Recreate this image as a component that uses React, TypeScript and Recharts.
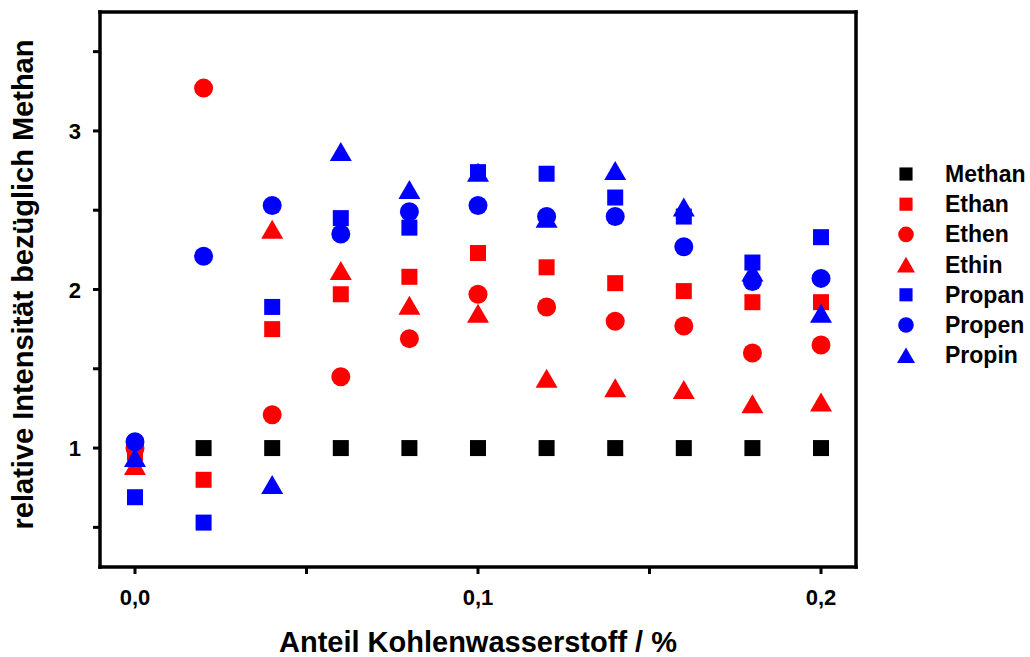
import React from 'react';
import { ScatterChart, Scatter, XAxis, YAxis, Legend } from 'recharts';

// Anteil Kohlenwasserstoff / %
const xValues = [0, 0.02, 0.04, 0.06, 0.08, 0.1, 0.12, 0.14, 0.16, 0.18, 0.2];

// relative Intensität bezüglich Methan
const methan = [1, 1, 1, 1, 1, 1, 1, 1, 1, 1, 1];
const ethan = [0.97, 0.8, 1.75, 1.97, 2.08, 2.23, 2.14, 2.04, 1.99, 1.92, 1.92];
const ethen = [1.0, 3.27, 1.21, 1.45, 1.69, 1.97, 1.89, 1.8, 1.77, 1.6, 1.65];
const ethin = [0.89, null, 2.38, 2.12, 1.9, 1.85, 1.44, 1.38, 1.37, 1.28, 1.29];
const propan = [0.69, 0.53, 1.89, 2.45, 2.39, 2.74, 2.73, 2.58, 2.46, 2.17, 2.33];
const propen = [1.04, 2.21, 2.53, 2.35, 2.49, 2.53, 2.46, 2.46, 2.27, 2.05, 2.07];
const propin = [0.94, null, 0.77, 2.87, 2.63, 2.74, 2.45, 2.75, 2.52, 2.11, 1.85];

const xTicks = [0, 0.05, 0.1, 0.15, 0.2];
const yTicks = [0.5, 1, 1.5, 2, 2.5, 3, 3.5];

const FONT = '"Liberation Sans", Arial, sans-serif';
const RED = '#ff0000';
const BLUE = '#0000ff';

type Kind = 'square' | 'circle' | 'triangle';

const series: { name: string; values: (number | null)[]; color: string; kind: Kind }[] = [
  { name: 'Methan', values: methan, color: '#000000', kind: 'square' },
  { name: 'Ethan', values: ethan, color: RED, kind: 'square' },
  { name: 'Ethen', values: ethen, color: RED, kind: 'circle' },
  { name: 'Ethin', values: ethin, color: RED, kind: 'triangle' },
  { name: 'Propan', values: propan, color: BLUE, kind: 'square' },
  { name: 'Propen', values: propen, color: BLUE, kind: 'circle' },
  { name: 'Propin', values: propin, color: BLUE, kind: 'triangle' },
];

const toPoints = (ys: (number | null)[]) =>
  xValues.map((x, i) => ({ x, y: ys[i] })).filter((p) => p.y !== null);

const Marker = ({ cx, cy, kind, color, scale = 1 }: any) => {
  if (cx == null || cy == null) return null;
  if (kind === 'square') {
    const s = 16 * scale;
    return <rect x={cx - s / 2} y={cy - s / 2} width={s} height={s} fill={color} />;
  }
  if (kind === 'circle') {
    return <circle cx={cx} cy={cy} r={9.5 * scale} fill={color} />;
  }
  const w = 22 * scale;
  const h = 19 * scale;
  return (
    <polygon
      points={`${cx},${cy - h / 2} ${cx + w / 2},${cy + h / 2} ${cx - w / 2},${cy + h / 2}`}
      fill={color}
    />
  );
};

const LegendBox = () => (
  <svg width={1030} height={657} style={{ display: 'block' }}>
    {series.map((s, i) => {
      const cy = 174 + i * 30.2;
      return (
        <g key={s.name}>
          <Marker cx={906} cy={cy} kind={s.kind} color={s.color} scale={0.82} />
          <text
            x={945}
            y={cy + 8}
            fontFamily={FONT}
            fontWeight="bold"
            fontSize={23}
            fill="#000"
          >
            {s.name}
          </text>
        </g>
      );
    })}
  </svg>
);

const XTitle = ({ viewBox }: any) => (
  <text
    x={viewBox.x + viewBox.width / 2}
    y={652}
    textAnchor="middle"
    fontFamily={FONT}
    fontWeight="bold"
    fontSize={29}
    fill="#000"
  >
    Anteil Kohlenwasserstoff / %
  </text>
);

const YTitle = ({ viewBox }: any) => (
  <text
    x={0}
    y={0}
    transform={`translate(33, ${viewBox.y + viewBox.height / 2 - 5}) rotate(-90)`}
    textAnchor="middle"
    fontFamily={FONT}
    fontWeight="bold"
    fontSize={29}
    fill="#000"
  >
    relative Intensität bezüglich Methan
  </text>
);

const axisLine = { stroke: '#000', strokeWidth: 3.5, strokeLinecap: 'square' as const };
const tickLine = { stroke: '#000', strokeWidth: 3 };

// custom tick text so the size and weight stick
const TickText = ({ x, y, payload, anchor, dy, major }: any) => {
  if (!major(payload.value)) return null;
  const label =
    anchor === 'middle' ? payload.value.toFixed(1).replace('.', ',') : String(payload.value);
  return (
    <text
      x={x}
      y={y}
      dy={dy}
      textAnchor={anchor}
      fontFamily={FONT}
      fontWeight="bold"
      fontSize={22}
      fill="#000"
    >
      {label}
    </text>
  );
};

const isWhole = (v: number, f: number) => Math.abs(v * f - Math.round(v * f)) < 1e-6;

const App: React.FC = () => {
  return (
    <div style={{ position: 'absolute', left: 0, top: 0, width: 1030, height: 657, background: '#fff' }}>
      <ScatterChart width={1030} height={657} margin={{ top: 2, right: 164, bottom: 0, left: 0 }}>
        <XAxis
          type="number"
          dataKey="x"
          domain={[-0.0102, 0.2102]}
          allowDataOverflow
          ticks={xTicks}
          interval={0}
          height={90}
          axisLine={axisLine}
          tickLine={tickLine}
          tickSize={7}
          tickMargin={7}
          tick={(p: any) => (
            <TickText {...p} anchor="middle" dy={24} major={(v: number) => isWhole(v, 10)} />
          )}
          label={<XTitle />}
        />
        <XAxis
          xAxisId="top"
          orientation="top"
          type="number"
          domain={[-0.0102, 0.2102]}
          allowDataOverflow
          ticks={xTicks}
          height={10}
          axisLine={axisLine}
          tickLine={false}
          tick={false}
        />
        <YAxis
          type="number"
          dataKey="y"
          domain={[0.25, 3.75]}
          allowDataOverflow
          ticks={yTicks}
          interval={0}
          width={100}
          axisLine={axisLine}
          tickLine={tickLine}
          tickSize={7}
          tickMargin={12}
          tick={(p: any) => (
            <TickText {...p} anchor="end" dy={8} major={(v: number) => isWhole(v, 1)} />
          )}
          label={<YTitle />}
        />
        <YAxis
          yAxisId="right"
          orientation="right"
          type="number"
          domain={[0.25, 3.75]}
          allowDataOverflow
          ticks={yTicks}
          width={10}
          axisLine={axisLine}
          tickLine={tickLine}
          tickSize={3}
          tick={false}
        />
        <Legend
          layout="vertical"
          align="center"
          verticalAlign="middle"
          wrapperStyle={{ left: 0, top: 0, width: 1030, height: 657, pointerEvents: 'none' }}
          content={() => <LegendBox />}
        />
        {series.map((s) => (
          <Scatter
            key={s.name}
            name={s.name}
            data={toPoints(s.values)}
            fill={s.color}
            isAnimationActive={false}
            shape={(p: any) => <Marker cx={p.cx} cy={p.cy} kind={s.kind} color={s.color} />}
          />
        ))}
      </ScatterChart>
    </div>
  );
};

export default App;
